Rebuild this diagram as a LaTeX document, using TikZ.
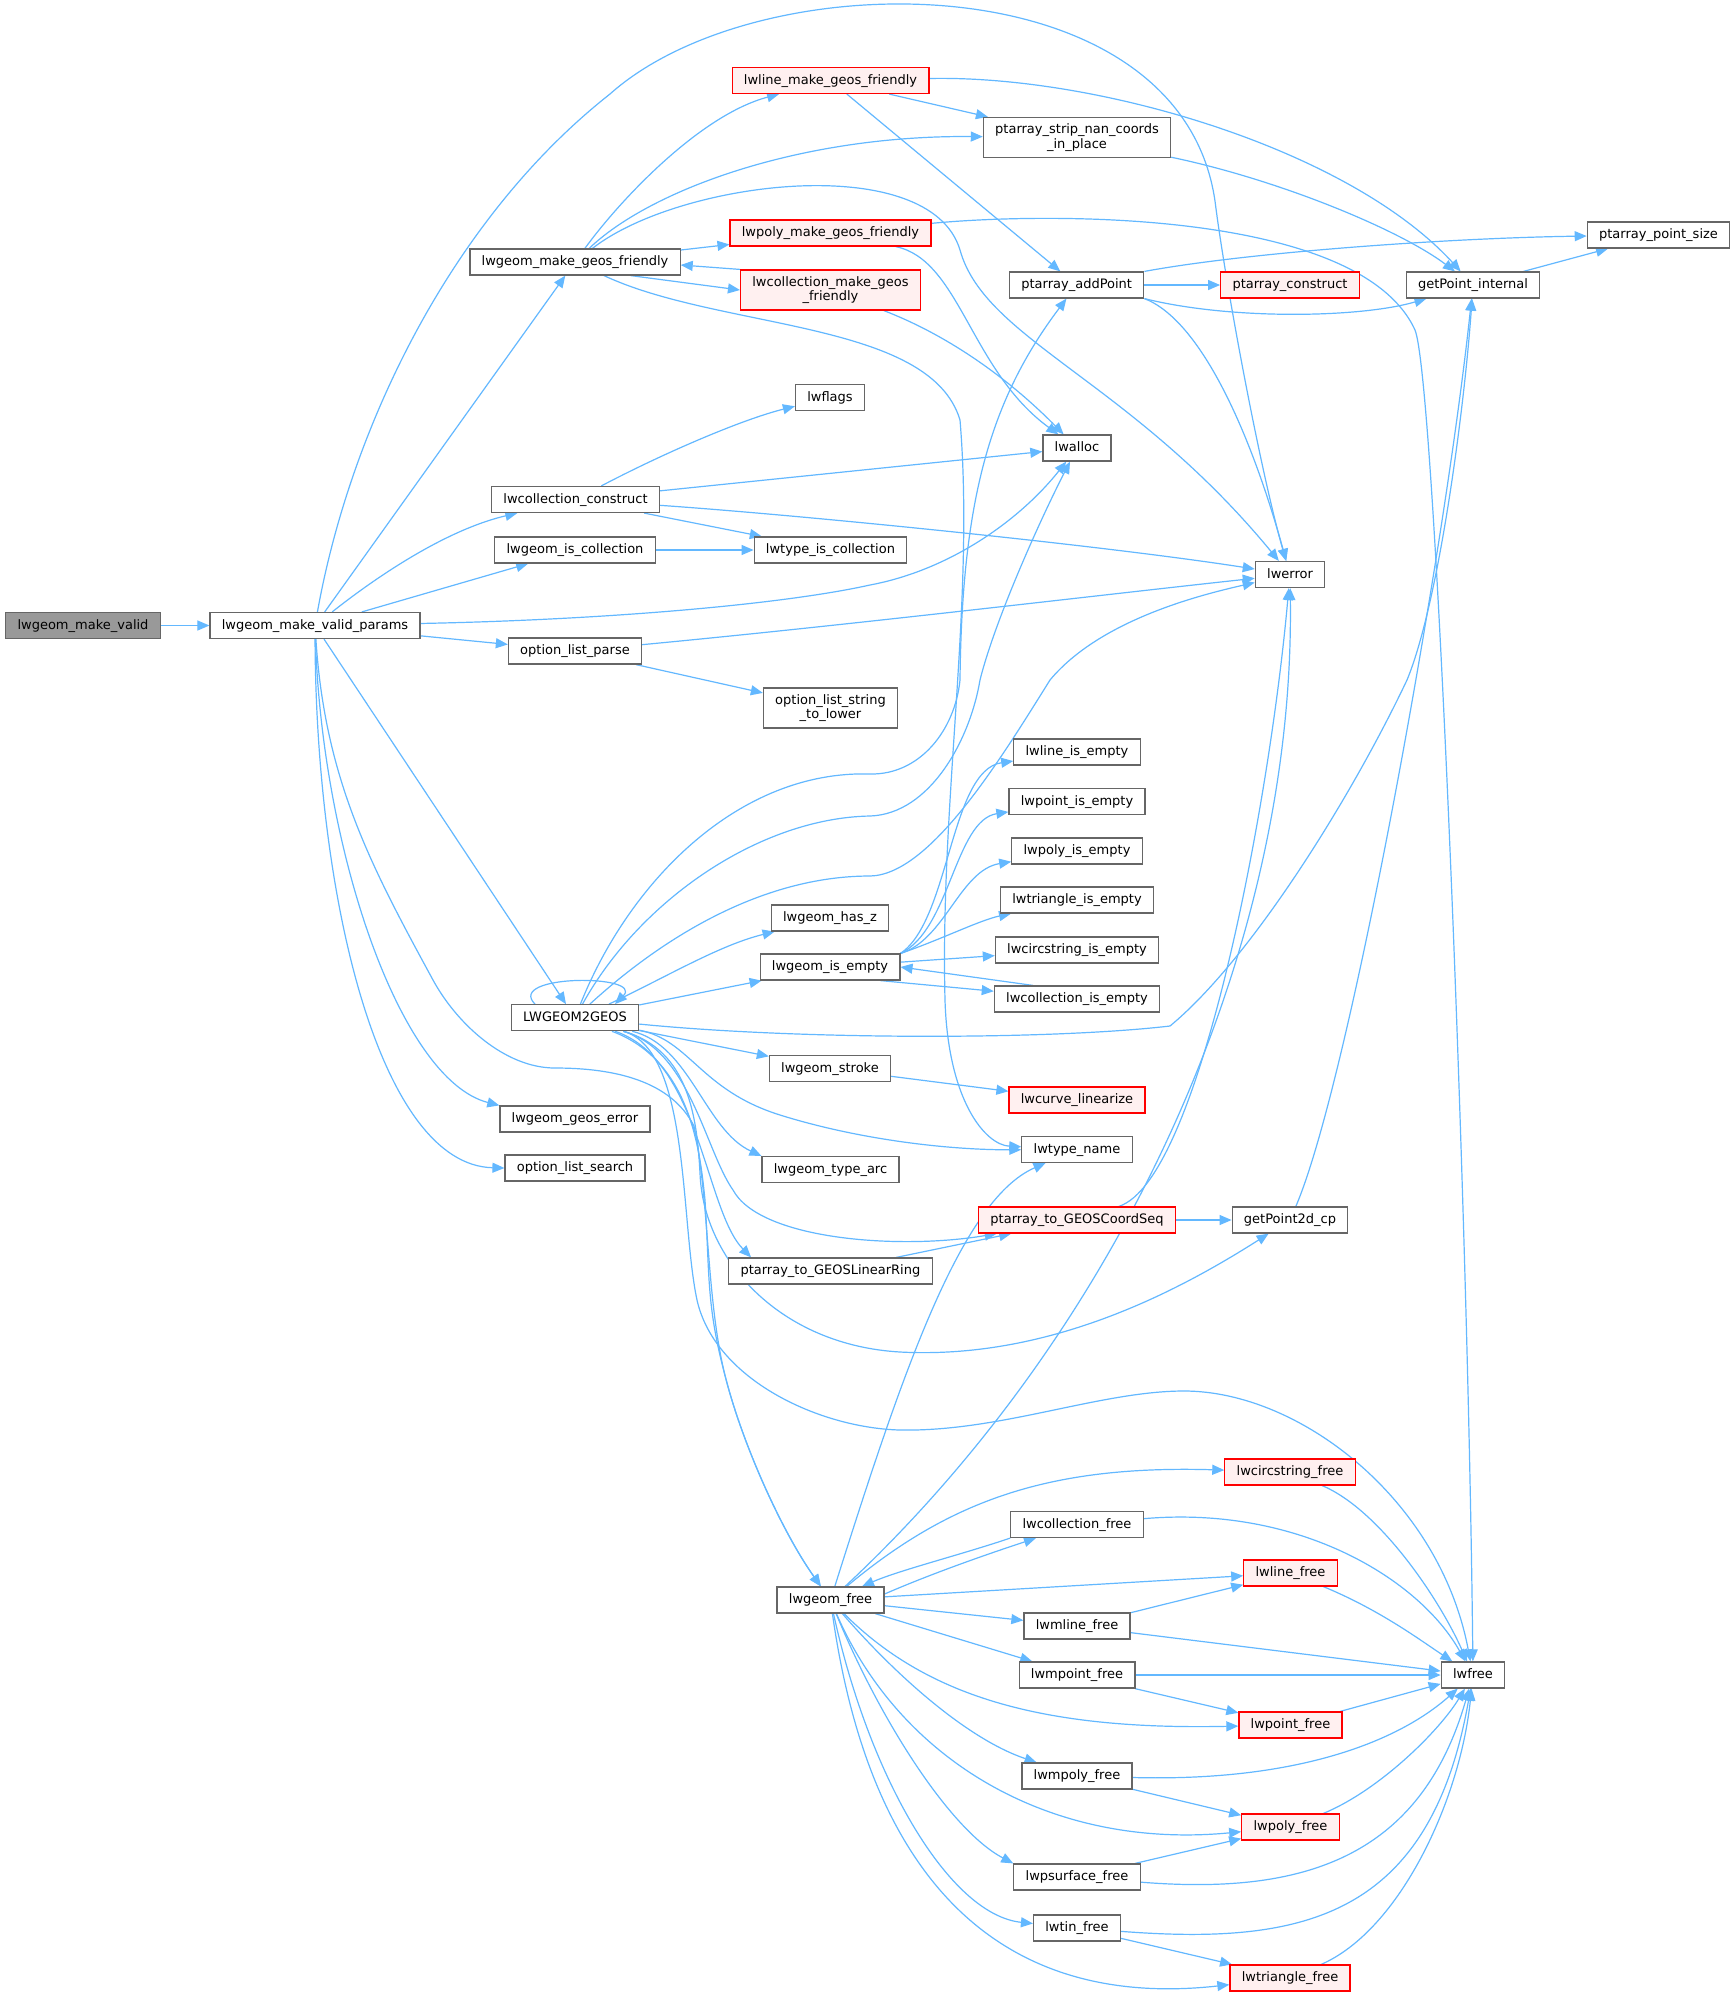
\documentclass[tikz,border=0pt]{standalone}
\usepackage{fontspec}
\setmainfont{DejaVu Sans}
\usetikzlibrary{arrows.meta}
\definecolor{edgeblue}{HTML}{63B8FF}
\definecolor{bordergray}{HTML}{666666}
\definecolor{pinkfill}{HTML}{FFF0F0}
\definecolor{grayfill}{HTML}{999999}
\pgfdeclarelayer{bglayer}
\pgfdeclarelayer{edgelayer}
\pgfsetlayers{bglayer,edgelayer,main}
\tikzset{
  nd/.style={draw=bordergray, fill=white, line width=0.6pt, rectangle, inner xsep=5.9pt, inner ysep=1pt, minimum height=13pt, font=\fontsize{6.5}{7.8}\selectfont, text height=4.9pt, text depth=1.4pt},
  ndtwo/.style={draw=bordergray, fill=white, line width=0.6pt, rectangle, inner xsep=5.9pt, inner ysep=1pt, minimum height=20pt, font=\fontsize{6.5}{7.4}\selectfont, align=center},
  trunc/.style={draw=red},
  truncfill/.style={fill=pinkfill},
  cur/.style={fill=grayfill},
  conn/.style={draw=edgeblue, line width=0.6pt, -{Triangle[length=6pt,width=5pt]}},
}
\begin{document}
\begin{tikzpicture}[x=0.5pt,y=-0.5pt]
\useasboundingbox (0,0) rectangle (1736,2004);
\begin{pgfonlayer}{bglayer}
\fill[white] (0,0) rectangle (1736,2004);
\end{pgfonlayer}
% nodes
\node[nd,cur] (mv) at (83,625.5) {lwgeom\_make\_valid};
\node[nd] (mvp) at (315,625.5) {lwgeom\_make\_valid\_params};
\node[nd] (mgf) at (575,262) {lwgeom\_make\_geos\_friendly};
\node[nd,trunc,truncfill] (lmgf) at (830.5,80.5) {lwline\_make\_geos\_friendly};
\node[nd,trunc,truncfill] (pmgf) at (830.5,233) {lwpoly\_make\_geos\_friendly};
\node[ndtwo,trunc,truncfill] (cmgf) at (830.5,290) {lwcollection\_make\_geos\\\_friendly};
\node[nd] (flags) at (830,397.5) {lwflags};
\node[nd] (cc) at (575.5,499.5) {lwcollection\_construct};
\node[nd] (gic) at (575,550) {lwgeom\_is\_collection};
\node[nd] (tic) at (830.5,550) {lwtype\_is\_collection};
\node[nd] (olp) at (575,651) {option\_list\_parse};
\node[ndtwo] (olstl) at (830.5,708) {option\_list\_string\\\_to\_lower};
\node[nd] (l2g) at (575,1017.7) {LWGEOM2GEOS};
\node[nd] (hasz) at (830,918) {lwgeom\_has\_z};
\node[nd] (gie) at (830,967) {lwgeom\_is\_empty};
\node[nd] (stroke) at (830,1068.5) {lwgeom\_stroke};
\node[nd] (gerr) at (575,1119) {lwgeom\_geos\_error};
\node[nd] (ols) at (575,1168) {option\_list\_search};
\node[nd] (arc) at (830.5,1169.5) {lwgeom\_type\_arc};
\node[nd] (linring) at (830.4,1271) {ptarray\_to\_GEOSLinearRing};
\node[nd] (gfree) at (830.5,1600) {lwgeom\_free};
\node[ndtwo] (strip) at (1077,137.5) {ptarray\_strip\_nan\_coords\\\_in\_place};
\node[nd] (addp) at (1076.7,285) {ptarray\_addPoint};
\node[nd] (alloc) at (1077,448) {lwalloc};
\node[nd] (lie) at (1077,752) {lwline\_is\_empty};
\node[nd] (pie) at (1077,801.5) {lwpoint\_is\_empty};
\node[nd] (polie) at (1077,851) {lwpoly\_is\_empty};
\node[nd] (trie) at (1077,900) {lwtriangle\_is\_empty};
\node[nd] (cie) at (1077,950) {lwcircstring\_is\_empty};
\node[nd] (colie) at (1077,999) {lwcollection\_is\_empty};
\node[nd,trunc,truncfill] (curve) at (1077,1100) {lwcurve\_linearize};
\node[nd] (tname) at (1077,1149.5) {lwtype\_name};
\node[nd,trunc,truncfill] (coordseq) at (1077,1220) {ptarray\_to\_GEOSCoordSeq};
\node[nd] (colfree) at (1077,1524.5) {lwcollection\_free};
\node[nd] (mlfree) at (1077,1626) {lwmline\_free};
\node[nd] (mpfree) at (1077,1675) {lwmpoint\_free};
\node[nd] (mpolyfree) at (1077,1776) {lwmpoly\_free};
\node[nd] (psfree) at (1077,1877) {lwpsurface\_free};
\node[nd] (tinfree) at (1077,1928) {lwtin\_free};
\node[nd,trunc,truncfill] (construct) at (1290,285) {ptarray\_construct};
\node[nd] (err) at (1290,574.5) {lwerror};
\node[nd] (gp2d) at (1290,1220) {getPoint2d\_cp};
\node[nd,trunc,truncfill] (csfree) at (1290,1472) {lwcircstring\_free};
\node[nd,trunc,truncfill] (lfree) at (1290.5,1573) {lwline\_free};
\node[nd,trunc,truncfill] (pfree) at (1290.5,1725) {lwpoint\_free};
\node[nd,trunc,truncfill] (polyfree) at (1290.5,1827) {lwpoly\_free};
\node[nd,trunc,truncfill] (trifree) at (1290,1978) {lwtriangle\_free};
\node[nd] (gpi) at (1473,285) {getPoint\_internal};
\node[nd] (free) at (1473,1675) {lwfree};
\node[nd] (pps) at (1658.5,235) {ptarray\_point\_size};

\begin{pgfonlayer}{edgelayer}
% lwgeom_make_valid and params
\draw[conn] (mv) -- (mvp);
\draw[conn] (mvp) .. controls (350,430) and (450,220) .. (610,94) .. controls (760,-40) and (1180,-40) .. (1215,201) .. controls (1225,281) and (1260,470) .. (err);
\draw[conn] (mvp) -- (mgf);
\draw[conn] (mvp) .. controls (375,578) and (445,530) .. (cc);
\draw[conn] (mvp) -- (gic);
\draw[conn] (mvp) .. controls (600,620) and (780,605) .. (870,585) .. controls (950,570) and (1020,520) .. (alloc);
\draw[conn] (mvp) -- (olp);
\draw[conn] (mvp) -- (l2g);
\draw[conn] (mvp) .. controls (325,780) and (371,866) .. (433,980) .. controls (457,1024) and (505,1068) .. (555,1068) .. controls (615,1068) and (671,1081) .. (694,1126) .. controls (710,1204) and (706,1306) .. (727,1383) .. controls (745,1450) and (783,1533) .. (gfree);
\draw[conn] (mvp) .. controls (322,850) and (400,1080) .. (gerr.north west);
\draw[conn] (mvp) .. controls (316,900) and (380,1165) .. (ols.west);
% lwgeom_make_geos_friendly
\draw[conn] (mgf) .. controls (620,200) and (700,115) .. (lmgf);
\draw[conn] (mgf) .. controls (650,190) and (800,135) .. (strip);
\draw[conn] (mgf) .. controls (680,180) and (930,150) .. (960,250) .. controls (985,340) and (1130,380) .. (err);
\draw[conn] (mgf) -- (pmgf);
\draw[conn] ([xshift=-25pt]mgf.south east) -- (cmgf.west);
\draw[conn] (cmgf.north west) -- ([yshift=-1.5pt]mgf.east);
\draw[conn] (mgf) .. controls (720,330) and (930,320) .. (960,420) .. controls (975,600) and (940,800) .. (945,1000) .. controls (948,1100) and (985,1145) .. (tname);
% lwline_make_geos_friendly
\draw[conn] (lmgf) -- (strip);
\draw[conn] (lmgf) .. controls (1100,75) and (1350,150) .. (gpi);
\draw[conn] (lmgf) -- (addp);
% lwpoly / lwcollection make geos friendly
\draw[conn] (pmgf) .. controls (1050,212) and (1360,210) .. (1415,330) .. controls (1435,380) and (1468,1200) .. (free);
\draw[conn] (pmgf) .. controls (960,260) and (970,370) .. (alloc);
\draw[conn] (cmgf) .. controls (960,340) and (1020,390) .. (alloc);
% ptarray
\draw[conn] (strip) .. controls (1280,180) and (1400,230) .. (gpi);
\draw[conn] (addp.north east) .. controls (1250,252) and (1450,238) .. (pps);
\draw[conn] (addp) -- (construct);
\draw[conn] (addp.south east) .. controls (1230,320) and (1360,318) .. (gpi);
\draw[conn] (addp.south east) .. controls (1200,320) and (1250,430) .. (err);
\draw[conn] (gpi) -- (pps);
% collection construct etc
\draw[conn] (cc) .. controls (660,455) and (740,420) .. (flags);
\draw[conn] (cc) -- (alloc);
\draw[conn] (cc) .. controls (800,515) and (1100,545) .. (err);
\draw[conn] (cc) -- (tic);
\draw[conn] (gic) -- (tic);
\draw[conn] (olp) .. controls (850,625) and (1100,595) .. (err);
\draw[conn] (olp) -- (olstl);
% LWGEOM2GEOS
\draw[conn] ([xshift=-20pt]l2g.north) .. controls (505,974) and (645,974) .. ([xshift=20pt]l2g.north);
\draw[conn] (l2g) .. controls (630,880) and (740,770) .. (870,774) .. controls (920,775) and (955,730) .. (960,680) .. controls (962,500) and (990,400) .. (addp);
\draw[conn] (l2g) .. controls (640,900) and (760,818) .. (870,816) .. controls (930,814) and (970,740) .. (980,680) .. controls (995,620) and (1040,520) .. (alloc);
\draw[conn] (l2g) .. controls (660,940) and (760,876) .. (870,876) .. controls (930,875) and (1000,760) .. (1050,680) .. controls (1100,620) and (1200,595) .. (err);
\draw[conn] ([xshift=17pt]l2g.north) .. controls (670,975) and (720,945) .. (hasz);
\draw[conn] (l2g) -- (gie);
\draw[conn] (l2g) .. controls (800,1040) and (1050,1040) .. (1170,1026) .. controls (1250,960) and (1350,800) .. (1407,680) .. controls (1440,600) and (1465,400) .. (gpi);
\draw[conn] (l2g) -- (stroke);
\draw[conn] (l2g) .. controls (690,1040) and (700,1090) .. (780,1115) .. controls (860,1140) and (950,1150) .. (tname);
\draw[conn] (l2g) .. controls (690,1045) and (705,1130) .. (arc.north west);
\draw[conn] (l2g) .. controls (690,1050) and (705,1150) .. (733,1190) .. controls (760,1240) and (900,1250) .. (coordseq);
\draw[conn] (l2g) .. controls (700,1060) and (705,1210) .. ([xshift=11.5pt]linring.north west);
\draw[conn] (l2g) .. controls (690,1050) and (697,1120) .. (700,1173) .. controls (703,1260) and (780,1345) .. (900,1352) .. controls (1050,1360) and (1180,1290) .. (gp2d);
\draw[conn] (l2g) .. controls (690,1050) and (680,1220) .. (697,1300) .. controls (715,1380) and (820,1428) .. (900,1430) .. controls (1000,1432) and (1100,1391) .. (1184,1391) .. controls (1300,1391) and (1440,1500) .. (free);
\draw[conn] (l2g) .. controls (690,1060) and (700,1150) .. (705,1200) .. controls (710,1280) and (706,1306) .. (727,1383) .. controls (745,1450) and (783,1533) .. (gfree);
% lwgeom_is_empty
\draw[conn] (gie.north east) .. controls (950,920) and (950,770) .. (lie);
\draw[conn] (gie.north east) .. controls (950,930) and (955,820) .. (pie);
\draw[conn] (gie.north east) .. controls (945,940) and (960,870) .. (polie);
\draw[conn] (gie.north east) .. controls (940,940) and (980,920) .. (trie);
\draw[conn] (gie) -- (cie);
\draw[conn] ([xshift=-10pt]gie.south east) -- (colie);
\draw[conn] ([xshift=-22pt]colie.north) -- (gie.east);
% misc
\draw[conn] (stroke) -- (curve);
\draw[conn] (coordseq) -- (gp2d);
\draw[conn] (coordseq) .. controls (1200,1180) and (1270,800) .. (err);
\draw[conn] (linring) -- (coordseq);
\draw[conn] (gp2d) .. controls (1350,1080) and (1445,550) .. (gpi);
% lwgeom_free
\draw[conn] (gfree) .. controls (1120,1330) and (1295,950) .. (err);
\draw[conn] (gfree) .. controls (900,1380) and (960,1200) .. (tname);
\draw[conn] (gfree) .. controls (950,1500) and (1050,1465) .. (csfree);
\draw[conn] ([yshift=3pt]gfree.east) .. controls (940,1570) and (1000,1550) .. (colfree);
\draw[conn] (colfree.south west) .. controls (960,1555) and (900,1570) .. (gfree);
\draw[conn] (gfree) -- (lfree);
\draw[conn] (gfree) -- (mlfree);
\draw[conn] (gfree) -- (mpfree);
\draw[conn] (gfree) .. controls (930,1700) and (1050,1730) .. (pfree);
\draw[conn] (gfree) .. controls (900,1680) and (970,1740) .. (mpolyfree);
\draw[conn] (gfree) .. controls (900,1760) and (1050,1850) .. (polyfree);
\draw[conn] (gfree) .. controls (880,1720) and (950,1830) .. (psfree.north west);
\draw[conn] (gfree) .. controls (870,1780) and (950,1915) .. (tinfree);
\draw[conn] (gfree) .. controls (870,1880) and (1000,2010) .. (trifree);
% frees to lwfree
\draw[conn] (csfree) .. controls (1380,1510) and (1440,1600) .. (free);
\draw[conn] (colfree) .. controls (1300,1505) and (1420,1580) .. (free);
\draw[conn] (lfree) .. controls (1380,1610) and (1420,1640) .. (free);
\draw[conn] (mlfree) -- (lfree);
\draw[conn] (mlfree) -- (free);
\draw[conn] (mpfree) -- (free);
\draw[conn] (mpfree) -- (pfree);
\draw[conn] (pfree) -- (free);
\draw[conn] (mpolyfree) .. controls (1300,1782) and (1400,1740) .. (free);
\draw[conn] (mpolyfree) -- (polyfree);
\draw[conn] (polyfree) .. controls (1380,1790) and (1440,1730) .. (free);
\draw[conn] (psfree) -- (polyfree);
\draw[conn] (psfree) .. controls (1300,1895) and (1420,1860) .. (free);
\draw[conn] (tinfree) .. controls (1300,1945) and (1430,1920) .. (free);
\draw[conn] (tinfree) -- (trifree);
\draw[conn] (trifree) .. controls (1400,1930) and (1460,1800) .. (free);
\end{pgfonlayer}
\end{tikzpicture}
\end{document}
